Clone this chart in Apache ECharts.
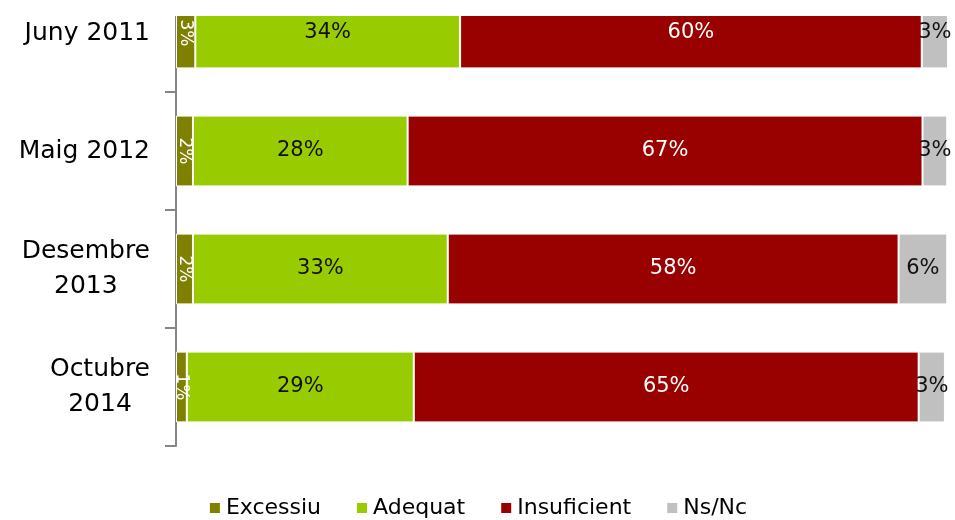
<!DOCTYPE html>
<html>
<head>
<meta charset="utf-8">
<script src="https://cdn.jsdelivr.net/npm/echarts@6/dist/echarts.min.js"></script>
<style>html,body{margin:0;padding:0;background:#fff;}#c{width:955px;height:520px;}</style>
</head>
<body>
<div id="c"></div>
<script>
const categories = ['Juny 2011', 'Maig 2012', 'Desembre\n2013', 'Octubre\n2014'];
const seriesNames = ['Excessiu', 'Adequat', 'Insuficient', 'Ns/Nc'];
const excessiu = [2.5, 2.2, 2.2, 1.4];
const adequat = [34.3, 27.8, 33.0, 29.4];
const insuficient = [59.8, 66.7, 58.4, 65.4];
const nsnc = [3.4, 3.2, 6.3, 3.4];

const FONT = 'DejaVu Sans';
const colors = ['#808000', '#99CC00', '#990000', '#C0C0C0'];
const dataSets = [excessiu, adequat, insuficient, nsnc];
const labelStyles = [
  {color: '#ffffff', rotate: -90, fontSize: 17},
  {color: '#111111', fontSize: 21},
  {color: '#ffffff', fontSize: 21},
  {color: '#111111', fontSize: 21}
];

const chart = echarts.init(document.getElementById('c'));
chart.setOption({
  animation: false,
  textStyle: {fontFamily: FONT},
  color: colors,
  grid: {left: 176, right: 7, top: -26, height: 472, containLabel: false, outerBoundsMode: 'none'},
  xAxis: {type: 'value', min: 0, max: 100, show: false},
  yAxis: {
    type: 'category', data: categories, inverse: true,
    axisLine: {show: true, lineStyle: {color: '#868686', width: 2}},
    axisTick: {show: true, length: 11, lineStyle: {color: '#868686', width: 2}},
    axisLabel: {
      margin: 26, color: '#000', fontSize: 25, fontFamily: FONT, lineHeight: 35,
      formatter: v => v.split('\n').map(s => '{c|' + s + '}').join('\n'),
      rich: {c: {align: 'center', fontSize: 25, fontFamily: FONT, color: '#000', lineHeight: 35}}
    }
  },
  legend: {
    bottom: -4, left: 'center', icon: 'rect', itemWidth: 12, itemHeight: 12, itemGap: 34,
    textStyle: {fontSize: 22, color: '#000', fontFamily: FONT},
    data: seriesNames
  },
  series: seriesNames.map((n, i) => ({
    name: n, type: 'bar', stack: 'total', barCategoryGap: '40%',
    data: dataSets[i],
    itemStyle: {borderColor: '#fff', borderWidth: 1},
    label: Object.assign({
      show: true, position: 'inside', fontFamily: FONT,
      formatter: p => Math.round(p.value) + '%'
    }, labelStyles[i])
  })),
  graphic: [{type: 'rect', shape: {x: 0, y: 0, width: 955, height: 16}, style: {fill: '#fff'}, z: 100}]
});
</script>
</body>
</html>
